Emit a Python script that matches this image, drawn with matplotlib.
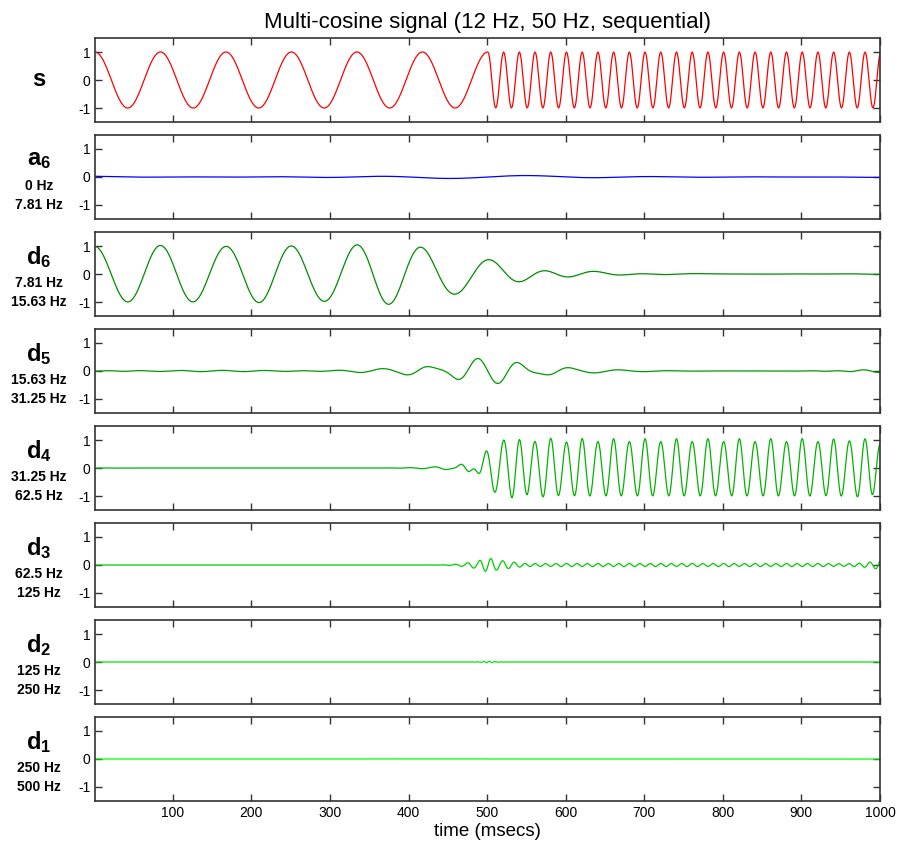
import numpy as np
import matplotlib
matplotlib.use("Agg")
import matplotlib.pyplot as plt

# ---- signal definition -------------------------------------------------
fs_hz = 1000                      # sampling rate
duration_ms = 1000
seg_freqs_hz = [12, 50]           # cosine frequency of each segment
seg_starts_ms = [0, 500]          # segment start times
levels = 6

# ---- panel labels --------------------------------------------------------
row_names = [r"s", r"a_6", r"d_6", r"d_5", r"d_4", r"d_3", r"d_2", r"d_1"]
band_low = ["", "0 Hz", "7.81 Hz", "15.63 Hz", "31.25 Hz", "62.5 Hz", "125 Hz", "250 Hz"]
band_high = ["", "7.81 Hz", "15.63 Hz", "31.25 Hz", "62.5 Hz", "125 Hz", "250 Hz", "500 Hz"]
row_colors = ["#ff0000", "#0000ff", "#008c00", "#009a00", "#00b400", "#00cc00", "#00e600", "#00ff00"]
x_ticks = [100, 200, 300, 400, 500, 600, 700, 800, 900, 1000]
y_ticks = [-1, 0, 1]
title_text = "Multi-cosine signal (12 Hz, 50 Hz, sequential)"
xlabel_text = "time (msecs)"


# ---- periodic Meyer wavelet transform (frequency domain) ---------------
def _nu(x):
    x = np.clip(x, 0.0, 1.0)
    return x ** 4 * (35 - 84 * x + 70 * x ** 2 - 20 * x ** 3)


def _meyer_phi(w):
    w = np.abs(w)
    out = np.zeros_like(w)
    out[w <= 2 * np.pi / 3] = 1.0
    m = (w > 2 * np.pi / 3) & (w < 4 * np.pi / 3)
    out[m] = np.cos(np.pi / 2 * _nu(3 * w[m] / (2 * np.pi) - 1))
    return out


def _filters(n):
    w = 2 * np.pi * np.fft.fftfreq(n)           # in [-pi, pi)
    H = np.sqrt(2.0) * _meyer_phi(2 * w)
    wp = np.angle(np.exp(1j * (w + np.pi)))
    G = np.exp(-1j * w) * np.sqrt(2.0) * _meyer_phi(2 * wp)
    return H, G


def analyse(x):
    H, G = _filters(len(x))
    X = np.fft.fft(x)
    a = np.real(np.fft.ifft(X * np.conj(H)))[::2]
    d = np.real(np.fft.ifft(X * np.conj(G)))[::2]
    return a, d


def synthesise(a, d):
    n = 2 * len(a)
    H, G = _filters(n)
    ua = np.zeros(n); ua[::2] = a
    ud = np.zeros(n); ud[::2] = d
    return np.real(np.fft.ifft(np.fft.fft(ua) * H + np.fft.fft(ud) * G))


# sampled signal
t_ms = np.arange(1, duration_ms + 1)
sig = np.zeros(duration_ms)
bounds = seg_starts_ms + [duration_ms + 1]
for f, t0, t1 in zip(seg_freqs_hz, bounds[:-1], bounds[1:]):
    m = (t_ms - 1 >= t0) & (t_ms - 1 < t1)
    sig[m] = np.cos(2 * np.pi * f * (t_ms[m] - 1) / fs_hz)

# symmetric extension to a power-of-two length
total = 2048
pad_l = (total - duration_ms) // 2
pad_r = total - duration_ms - pad_l
x_ext = np.pad(sig, (pad_l, pad_r), mode="symmetric")

approx = x_ext
details = []
for _ in range(levels):
    approx, d = analyse(approx)
    details.append(d)


def reconstruct(level, coeffs, is_detail):
    a = np.zeros_like(coeffs) if is_detail else coeffs
    d = coeffs if is_detail else np.zeros_like(coeffs)
    y = synthesise(a, d)
    for _ in range(level - 1):
        y = synthesise(y, np.zeros_like(y))
    return y[pad_l:pad_l + duration_ms]


rows = [sig, reconstruct(levels, approx, False)]
for lev in range(levels, 0, -1):
    rows.append(reconstruct(lev, details[lev - 1], True))
assert np.allclose(np.sum(rows[1:], axis=0), sig, atol=1e-8)

# ---- drawing -------------------------------------------------------------
plt.rcParams["font.family"] = ["Liberation Sans", "DejaVu Sans"]
plt.rcParams["mathtext.fontset"] = "custom"
plt.rcParams["mathtext.rm"] = "Liberation Sans:bold"
plt.rcParams["mathtext.it"] = "Liberation Sans:bold"
plt.rcParams["mathtext.bf"] = "Liberation Sans:bold"

W, H = 897, 844
fig = plt.figure(figsize=(W / 100, H / 100), dpi=100)
left_px, right_px = 95, 880
top0_px, step_px, height_px = 38, 97, 84

for i, (y, col) in enumerate(zip(rows, row_colors)):
    top = top0_px + i * step_px
    ax = fig.add_axes([left_px / W, 1 - (top + height_px) / H,
                       (right_px - left_px) / W, height_px / H])
    ax.plot(t_ms, y, color=col, lw=0.9)
    ax.set_xlim(1, 1000)
    ax.set_ylim(-1.5, 1.5)
    ax.set_yticks(y_ticks)
    ax.set_yticklabels([str(v) for v in y_ticks])
    ax.set_xticks(x_ticks)
    ax.tick_params(direction="in", length=5, width=1, top=True, right=True,
                   labelsize=10, colors="#333333", labelcolor="black", pad=3.5)
    for sp in ax.spines.values():
        sp.set_linewidth(1.2)
        sp.set_color("#333333")
    if i == len(rows) - 1:
        ax.set_xticklabels([str(v) for v in x_ticks])
        ax.set_xlabel(xlabel_text, fontsize=13.5, labelpad=2)
    else:
        ax.set_xticklabels([])
    if i == 0:
        ax.set_title(title_text, fontsize=16, pad=7)

    cy = top + height_px / 2
    if band_low[i]:
        fig.text(39 / W, 1 - (cy - 17) / H, "$" + row_names[i] + "$",
                 fontsize=17, ha="center", va="center")
        fig.text(39 / W, 1 - (cy + 9) / H, band_low[i], fontsize=10,
                 fontweight="bold", ha="center", va="center")
        fig.text(39 / W, 1 - (cy + 28) / H, band_high[i], fontsize=10,
                 fontweight="bold", ha="center", va="center")
    else:
        fig.text(39 / W, 1 - cy / H, "$" + row_names[i] + "$",
                 fontsize=17, ha="center", va="center")

fig.savefig("out.png", dpi=100, facecolor="white")
